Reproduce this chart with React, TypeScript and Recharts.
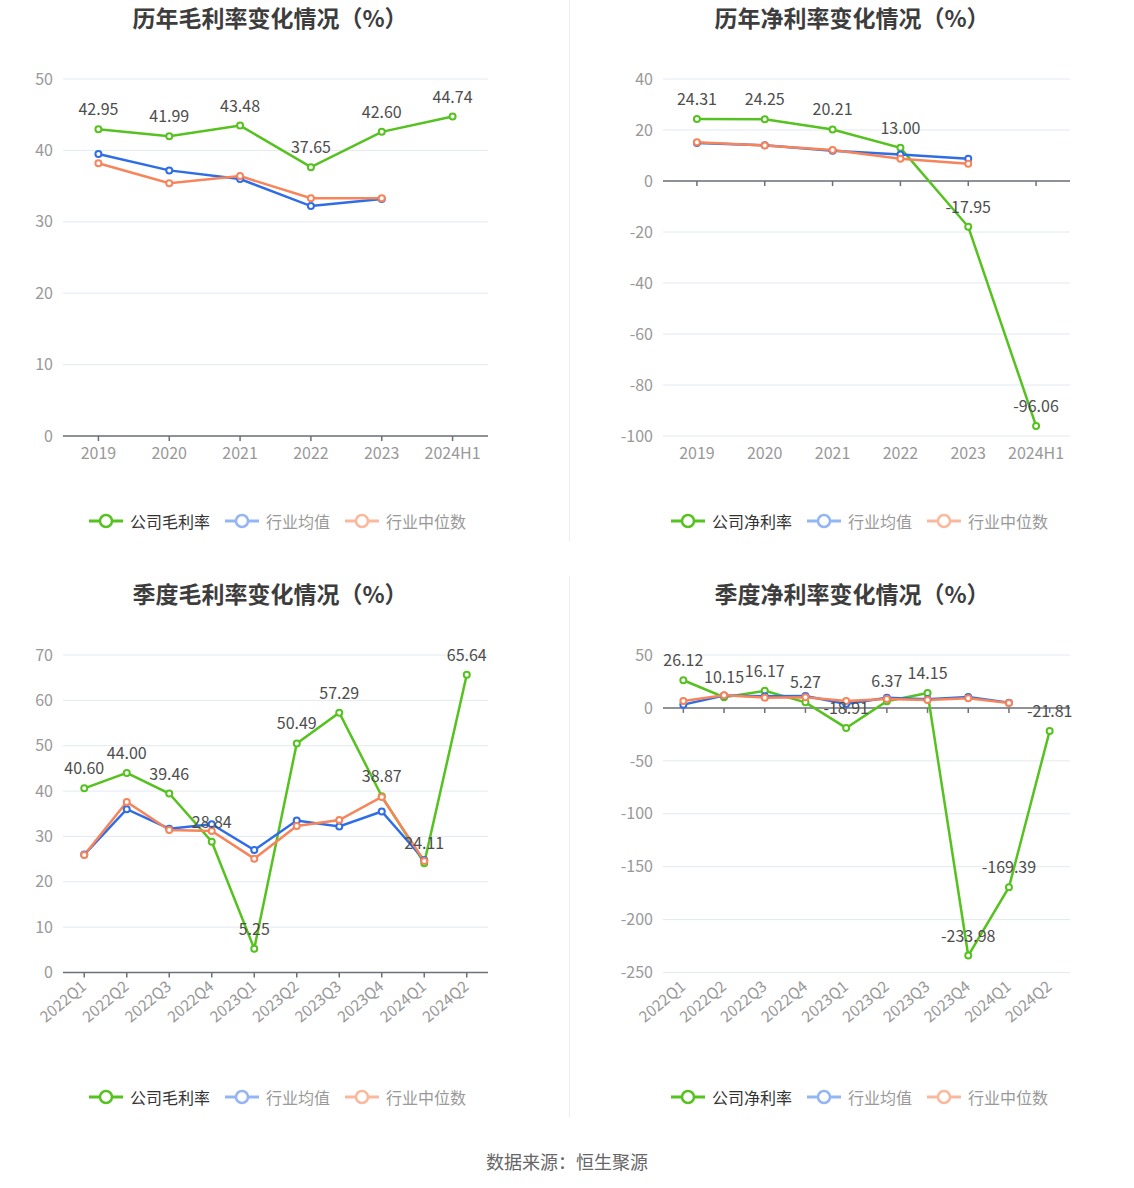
import React from 'react';
import { LineChart, Line, XAxis, YAxis, CartesianGrid, ReferenceLine, LabelList } from 'recharts';

const yearCats = ['2019', '2020', '2021', '2022', '2023', '2024H1'];
const grossCompany = [42.95, 41.99, 43.48, 37.65, 42.6, 44.74];
const grossIndAvg = [39.5, 37.2, 36.0, 32.2, 33.2, null];
const grossIndMed = [38.2, 35.4, 36.4, 33.3, 33.3, null];

const netCompany = [24.31, 24.25, 20.21, 13.0, -17.95, -96.06];
const netIndAvg = [14.9, 14.0, 11.9, 10.4, 8.7, null];
const netIndMed = [15.2, 13.9, 12.2, 8.7, 6.8, null];

const quarterCats = ['2022Q1', '2022Q2', '2022Q3', '2022Q4', '2023Q1', '2023Q2', '2023Q3', '2023Q4', '2024Q1', '2024Q2'];
const qGrossCompany = [40.6, 44.0, 39.46, 28.84, 5.25, 50.49, 57.29, 38.87, 24.11, 65.64];
const qGrossIndAvg = [26.0, 36.0, 31.7, 32.7, 27.0, 33.5, 32.2, 35.5, 24.8, null];
const qGrossIndMed = [25.9, 37.6, 31.4, 31.2, 25.1, 32.3, 33.6, 38.7, 24.6, null];

const qNetCompany = [26.12, 10.15, 16.17, 5.27, -18.91, 6.37, 14.15, -233.98, -169.39, -21.81];
const qNetIndAvg = [3.1, 11.8, 11.0, 11.3, 3.8, 9.7, 8.2, 10.4, 5.0, null];
const qNetIndMed = [6.6, 12.0, 9.7, 10.0, 6.6, 8.5, 7.5, 9.1, 4.7, null];

const grossTicks = [0, 10, 20, 30, 40, 50];
const netTicks = [-100, -80, -60, -40, -20, 0, 20, 40];
const qGrossTicks = [0, 10, 20, 30, 40, 50, 60, 70];
const qNetTicks = [-250, -200, -150, -100, -50, 0, 50];

const FONT = "'Noto Sans CJK SC', 'Noto Sans', sans-serif";
const GREEN = '#55c21f';
const BLUE = '#2f6de6';
const ORANGE = '#f7845a';
const BLUE_FADE = '#94b5f5';
const ORANGE_FADE = '#fab89d';
const AXIS = '#6e7079';
const GRID = '#e3e8f2';
const TICK = '#999999';

type Row = { cat: string; company: number; avg: number | null; med: number | null };

function build(cats: string[], a: number[], b: (number | null)[], c: (number | null)[]): Row[] {
  return cats.map((cat, i) => ({ cat, company: a[i], avg: b[i], med: c[i] }));
}

const RotTick = (props: any) => {
  const { x, y, payload } = props;
  return (
    <g transform={`translate(${x},${y})`}>
      <text x={0} y={0} dy={5} textAnchor="end" transform="rotate(-40)" fill={TICK} fontSize={15.5} fontFamily={FONT}>
        {payload.value}
      </text>
    </g>
  );
};

const ValueLabel = (props: any) => {
  const x = props.x ?? props.viewBox?.x;
  const y = props.y ?? props.viewBox?.y;
  const v = props.value;
  if (v === null || v === undefined) return null;
  return (
    <text x={x} y={y - 14} textAnchor="middle" fill="#4d4d4d" fontSize={16} fontFamily={FONT}>
      {Number(v).toFixed(2)}
    </text>
  );
};

type PanelProps = {
  title: string;
  seriesName: string;
  data: Row[];
  cats: string[];
  domain: [number, number];
  ticks: number[];
  left: number;
  top: number;
  yWidth: number;
  rotated: boolean;
  zeroInside: boolean;
  zeroTick: number;
};

function LegendItem({ color, label, textColor }: { color: string; label: string; textColor: string }) {
  return (
    <div style={{ display: 'flex', alignItems: 'center', marginRight: 15 }}>
      <svg width={34} height={18}>
        <line x1={0} y1={9} x2={34} y2={9} stroke={color} strokeWidth={3} />
        <circle cx={17} cy={9} r={6} fill="#fff" stroke={color} strokeWidth={2.5} />
      </svg>
      <span style={{ marginLeft: 7, fontSize: 16, color: textColor, fontFamily: FONT, lineHeight: '20px' }}>{label}</span>
    </div>
  );
}

function Panel(p: PanelProps) {
  const chartH = 540;
  const xHeight = p.rotated ? 60 : 30;
  const plotBottom = p.rotated ? 396.5 : 436;
  const marginBottom = chartH - plotBottom - xHeight;
  const dotStyle = (c: string) => ({ r: 3, strokeWidth: 2, fill: '#fff', stroke: c });
  return (
    <div style={{ position: 'absolute', left: p.left, top: p.top, width: 540, height: chartH }}>
      <div
        style={{
          position: 'absolute', left: 0, top: 0, width: 540, height: 34, lineHeight: '34px',
          textAlign: 'center', fontSize: 23, fontWeight: 'bold', color: '#3d3d3d', fontFamily: FONT,
        }}
      >
        {p.title}
      </div>
      <LineChart width={540} height={chartH} data={p.data} margin={{ top: 79, right: 52, left: 0, bottom: marginBottom }}>
        <CartesianGrid horizontal={true} vertical={false} stroke={GRID} strokeWidth={1} />
        <XAxis
          dataKey="cat"
          type="category"
          scale="band"
          interval={0}
          height={xHeight}
          axisLine={p.zeroInside ? false : { stroke: AXIS, strokeWidth: 1.5 }}
          tickLine={p.zeroInside ? false : { stroke: AXIS, strokeWidth: 1.5 }}
          tickSize={5}
          tickMargin={7}
          tick={p.rotated ? <RotTick /> : { fill: TICK, fontSize: 16, fontFamily: FONT }}
        />
        <YAxis
          type="number"
          domain={p.domain}
          ticks={p.ticks}
          interval={0}
          width={p.yWidth}
          axisLine={false}
          tickLine={false}
          tickMargin={4}
          tick={{ fill: TICK, fontSize: 16, fontFamily: FONT }}
        />
        {p.zeroInside && <ReferenceLine y={0} stroke={AXIS} strokeWidth={1.5} />}
        {p.zeroInside &&
          p.cats.map((c) => (
            <ReferenceLine
              key={c}
              segment={[{ x: c, y: 0 }, { x: c, y: -p.zeroTick }]}
              stroke={AXIS}
              strokeWidth={1.5}
            />
          ))}
        <Line type="linear" dataKey="company" stroke={GREEN} strokeWidth={2.5} dot={dotStyle(GREEN)} activeDot={false} isAnimationActive={false} />
        <Line type="linear" dataKey="avg" stroke={BLUE} strokeWidth={2.5} dot={dotStyle(BLUE)} activeDot={false} isAnimationActive={false} />
        <Line type="linear" dataKey="med" stroke={ORANGE} strokeWidth={2.5} dot={dotStyle(ORANGE)} activeDot={false} isAnimationActive={false} />
        <Line type="linear" dataKey="company" stroke="none" dot={false} activeDot={false} isAnimationActive={false} legendType="none">
          <LabelList dataKey="company" content={<ValueLabel />} />
        </Line>
      </LineChart>
      <div style={{ position: 'absolute', left: 89, top: 511, display: 'flex', alignItems: 'center' }}>
        <LegendItem color={GREEN} label={p.seriesName} textColor="#333" />
        <LegendItem color={BLUE_FADE} label="行业均值" textColor="#999" />
        <LegendItem color={ORANGE_FADE} label="行业中位数" textColor="#999" />
      </div>
    </div>
  );
}

export default function App() {
  return (
    <div style={{ position: 'absolute', left: 0, top: 0, width: 1134, height: 1188, background: '#fff', fontFamily: FONT }}>
      <Panel
        title="历年毛利率变化情况（%）"
        seriesName="公司毛利率"
        data={build(yearCats, grossCompany, grossIndAvg, grossIndMed)}
        cats={yearCats}
        domain={[0, 50]}
        ticks={grossTicks}
        left={0}
        top={0}
        yWidth={63}
        rotated={false}
        zeroInside={false}
        zeroTick={0}
      />
      <Panel
        title="历年净利率变化情况（%）"
        seriesName="公司净利率"
        data={build(yearCats, netCompany, netIndAvg, netIndMed)}
        cats={yearCats}
        domain={[-100, 40]}
        ticks={netTicks}
        left={582}
        top={0}
        yWidth={81}
        rotated={false}
        zeroInside={true}
        zeroTick={2}
      />
      <Panel
        title="季度毛利率变化情况（%）"
        seriesName="公司毛利率"
        data={build(quarterCats, qGrossCompany, qGrossIndAvg, qGrossIndMed)}
        cats={quarterCats}
        domain={[0, 70]}
        ticks={qGrossTicks}
        left={0}
        top={576}
        yWidth={63}
        rotated={true}
        zeroInside={false}
        zeroTick={0}
      />
      <Panel
        title="季度净利率变化情况（%）"
        seriesName="公司净利率"
        data={build(quarterCats, qNetCompany, qNetIndAvg, qNetIndMed)}
        cats={quarterCats}
        domain={[-250, 50]}
        ticks={qNetTicks}
        left={582}
        top={576}
        yWidth={81}
        rotated={true}
        zeroInside={true}
        zeroTick={4.7}
      />
      <div style={{ position: 'absolute', left: 569, top: 0, width: 1, height: 541, background: '#ececec' }} />
      <div style={{ position: 'absolute', left: 569, top: 576, width: 1, height: 541, background: '#ececec' }} />
      <div
        style={{
          position: 'absolute', left: 0, top: 1148, width: 1134, textAlign: 'center',
          fontSize: 18, color: '#666', fontFamily: FONT, lineHeight: '26px',
        }}
      >
        数据来源：恒生聚源
      </div>
    </div>
  );
}
